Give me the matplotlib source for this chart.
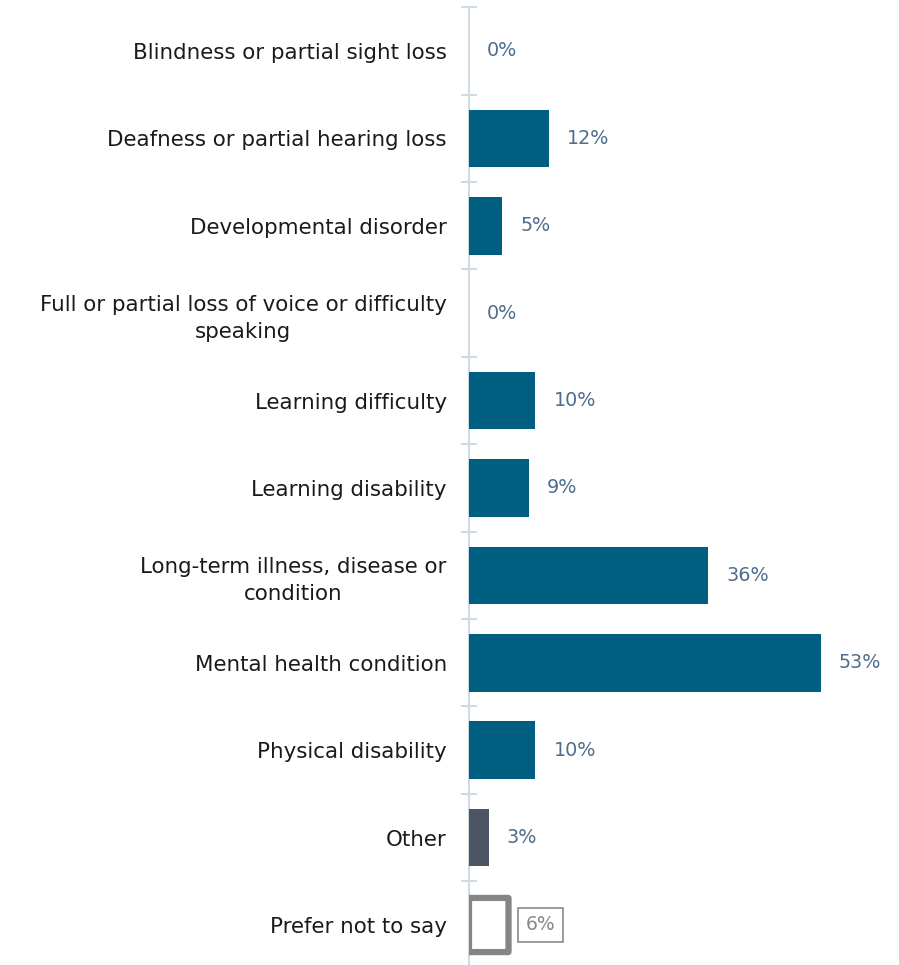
import matplotlib

matplotlib.use("Agg")
import matplotlib.pyplot as plt
from matplotlib.patches import FancyBboxPatch

categories = [
    "Blindness or partial sight loss",
    "Deafness or partial hearing loss",
    "Developmental disorder",
    "Full or partial loss of voice or difficulty\nspeaking",
    "Learning difficulty",
    "Learning disability",
    "Long-term illness, disease or\ncondition",
    "Mental health condition",
    "Physical disability",
    "Other",
    "Prefer not to say",
]
values = [0, 12, 5, 0, 10, 9, 36, 53, 10, 3, 6]

BLUE = "#005f80"
OTHER = "#4b5563"
LABEL = "#4f6d8c"
AXIS = "#d0dae5"

plt.rcParams["font.family"] = ["DejaVu Sans"]

W, H = 899, 965
fig = plt.figure(figsize=(W / 100, H / 100), dpi=100)
left_px, top_px, bot_px = 469, 7.3, 968.7
ax = fig.add_axes([left_px / W, 1 - bot_px / H, 1 - left_px / W,
                   (bot_px - top_px) / H])

n = len(categories)
ypos = list(range(n))
colors = [BLUE] * (n - 2) + [OTHER, "white"]
bh = 0.66
for i, (v, c) in enumerate(zip(values, colors)):
    if i == n - 1:
        # outlined "prefer not to say" bar
        box = FancyBboxPatch((0.0, i - bh / 2 + 0.02), v - 0.05, bh - 0.04,
                             boxstyle="round,pad=0,rounding_size=0.06",
                             fc="white", ec="#858585", lw=4.5, zorder=3,
                             mutation_aspect=1 / 6.6)
        ax.add_patch(box)
    elif v > 0:
        ax.barh(i, v, height=bh, color=c, zorder=3)

xmax = (W - left_px) / 6.64
ax.set_xlim(0, xmax)
ax.set_ylim(n - 0.5, -0.5)

for i, v in enumerate(values):
    if i == n - 1:
        ax.annotate(f"{v}%", (v, i), xytext=(12, 0), textcoords="offset points",
                    va="center", ha="left", fontsize=13.5, color="#888888",
                    bbox=dict(boxstyle="square,pad=0.4", fc="white",
                              ec="#8a8a8a", lw=1.2))
    else:
        ax.annotate(f"{v}%", (v, i), xytext=(13, 0), textcoords="offset points",
                    va="center", ha="left", fontsize=13.8, color=LABEL)

ax.set_yticks(ypos)
ax.set_yticklabels(categories, fontsize=15.4, color="#1a1a1a",
                   linespacing=1.4, ha="right", multialignment="center")
ax.tick_params(axis="y", length=0, pad=16)
ax.set_yticks([i - 0.5 for i in range(n + 1)], minor=True)
ax.tick_params(axis="y", which="minor", length=11, width=1.5, color=AXIS,
               direction="inout")
ax.set_xticks([])
for s in ("top", "right", "bottom"):
    ax.spines[s].set_visible(False)
ax.spines["left"].set_color(AXIS)
ax.spines["left"].set_linewidth(1.5)
ax.patch.set_alpha(0)

fig.savefig("out.png", dpi=100)
